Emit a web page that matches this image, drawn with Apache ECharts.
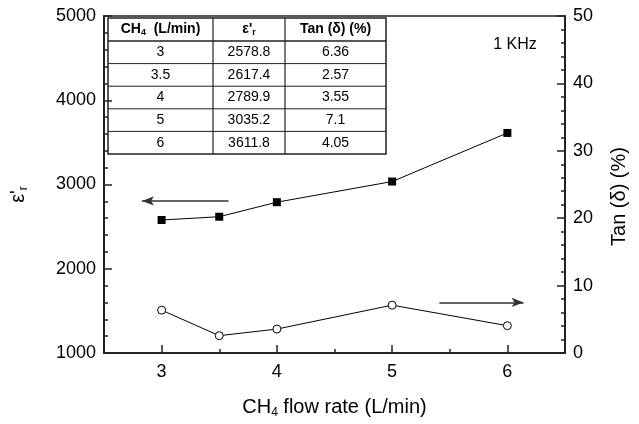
<!DOCTYPE html>
<html>
<head>
<meta charset="utf-8">
<script src="https://cdn.jsdelivr.net/npm/echarts@6/dist/echarts.min.js"></script>
<style>
  html, body { margin: 0; padding: 0; background: #fff; }
  #chart { width: 639px; height: 424px; }
</style>
</head>
<body>
<div id="chart"></div>
<script>
// CH4 flow rate (L/min) and the measured dielectric values at 1 KHz
const flowRate = [3, 3.5, 4, 5, 6];
const permittivity = [2578.8, 2617.4, 2789.9, 3035.2, 3611.8];
const lossTangent = [6.36, 2.57, 3.55, 7.1, 4.05];

const xMajorTicks = [3, 4, 5, 6];
const xMinorTicks = [3.5, 4.5, 5.5];

const FONT = '"Liberation Sans", Arial, sans-serif';

const chart = echarts.init(document.getElementById('chart'), null, { renderer: 'canvas' });

// Summary table in the upper-left corner, built from the same arrays
function buildTable() {
  const colX = [108, 213, 285, 386];
  const rowY = [18, 41];
  const rowH = (154 - 41) / flowRate.length;
  for (let i = 1; i <= flowRate.length; i++) rowY.push(41 + rowH * i);
  const children = [];
  children.push({
    type: 'rect',
    shape: { x: colX[0], y: rowY[0], width: colX[3] - colX[0], height: rowY[rowY.length - 1] - rowY[0] },
    style: { fill: '#fff', stroke: '#222', lineWidth: 1.5 }
  });
  for (let c = 1; c < colX.length - 1; c++) {
    children.push({ type: 'line', shape: { x1: colX[c], y1: rowY[0], x2: colX[c], y2: rowY[rowY.length - 1] }, style: { stroke: '#222', lineWidth: 1.2 } });
  }
  for (let r = 1; r < rowY.length - 1; r++) {
    children.push({ type: 'line', shape: { x1: colX[0], y1: rowY[r], x2: colX[3], y2: rowY[r] }, style: { stroke: '#222', lineWidth: r === 1 ? 1.5 : 1 } });
  }
  const header = ['CH{sub|4}  (L/min)', "ε'{sub|r}", 'Tan (δ) (%)'];
  header.forEach((h, c) => {
    children.push({
      type: 'text',
      style: {
        text: h, x: (colX[c] + colX[c + 1]) / 2, y: (rowY[0] + rowY[1]) / 2,
        align: 'center', verticalAlign: 'middle',
        font: 'bold 14px ' + FONT, fill: '#000',
        rich: { sub: { font: 'bold 9px ' + FONT, verticalAlign: 'bottom', padding: [6, 0, 0, 0] } }
      }
    });
  });
  flowRate.forEach((f, i) => {
    const vals = [String(f), String(permittivity[i]), String(lossTangent[i])];
    vals.forEach((v, c) => {
      children.push({
        type: 'text',
        style: {
          text: v, x: (colX[c] + colX[c + 1]) / 2, y: (rowY[i + 1] + rowY[i + 2]) / 2,
          align: 'center', verticalAlign: 'middle', font: '14px ' + FONT, fill: '#000'
        }
      });
    });
  });
  return { type: 'group', children, z: 50 };
}

const axisTextStyle = { color: '#000', fontSize: 18, fontFamily: FONT };

chart.setOption({
  animation: false,
  backgroundColor: '#fff',
  grid: { left: 100, right: 74, top: 16, bottom: 69, show: true, borderColor: '#222', borderWidth: 1.5 },
  xAxis: [
    {
      type: 'value', min: 2.5, max: 6.5,
      name: 'CH{sub|4} flow rate (L/min)', nameLocation: 'middle', nameGap: 42,
      nameTextStyle: {
        color: '#000', fontSize: 20, fontFamily: FONT,
        rich: { sub: { fontSize: 12, fontFamily: FONT, color: '#000', verticalAlign: 'bottom', padding: [12, 0, 0, 0] } }
      },
      axisLine: { show: true, onZero: false, lineStyle: { color: '#222', width: 2 } },
      axisTick: { show: true, inside: true, length: 8, customValues: xMajorTicks, lineStyle: { color: '#222', width: 1.5 } },
      axisLabel: { customValues: xMajorTicks, margin: 10, ...axisTextStyle },
      splitLine: { show: false }
    },
    {
      // minor ticks between the whole-number flow rates
      type: 'value', min: 2.5, max: 6.5, position: 'bottom',
      axisLine: { show: false },
      axisTick: { show: true, inside: true, length: 4, customValues: xMinorTicks, lineStyle: { color: '#222', width: 1.5 } },
      axisLabel: { show: false, customValues: xMinorTicks },
      splitLine: { show: false }
    }
  ],
  yAxis: [
    {
      type: 'value', min: 1000, max: 5000, interval: 1000, position: 'left',
      name: "ε'{sub|r}", nameLocation: 'middle', nameGap: 74, nameRotate: 90,
      nameTextStyle: {
        color: '#000', fontSize: 20, fontFamily: FONT, padding: [0, 20, 0, 0],
        rich: { sub: { fontSize: 12, fontFamily: FONT, color: '#000', verticalAlign: 'bottom', padding: [12, 0, 0, 0] } }
      },
      axisLine: { show: true, onZero: false, lineStyle: { color: '#222', width: 2 } },
      axisTick: { show: true, inside: true, length: 8, lineStyle: { color: '#222', width: 1.5 } },
      minorTick: { show: true, splitNumber: 5, length: 4, lineStyle: { color: '#222', width: 1.5 } },
      axisLabel: { margin: 8, formatter: v => String(v), ...axisTextStyle },
      splitLine: { show: false }, minorSplitLine: { show: false }
    },
    {
      type: 'value', min: 0, max: 50, interval: 10, position: 'right',
      name: 'Tan (δ) (%)', nameLocation: 'middle', nameGap: 44, nameRotate: 90,
      nameTextStyle: { color: '#000', fontSize: 20, fontFamily: FONT, padding: [0, 24, 0, 0] },
      axisLine: { show: true, onZero: false, lineStyle: { color: '#222', width: 2 } },
      axisTick: { show: true, inside: true, length: 8, lineStyle: { color: '#222', width: 1.5 } },
      minorTick: { show: true, splitNumber: 5, length: 4, lineStyle: { color: '#222', width: 1.5 } },
      axisLabel: { margin: 8, ...axisTextStyle },
      splitLine: { show: false }, minorSplitLine: { show: false }
    }
  ],
  series: [
    {
      name: "ε'r", type: 'line', xAxisIndex: 0, yAxisIndex: 0,
      data: flowRate.map((f, i) => [f, permittivity[i]]),
      symbol: 'rect', symbolSize: 8,
      itemStyle: { color: '#000' },
      lineStyle: { color: '#000', width: 1 },
      markLine: {
        silent: true, animation: false,
        symbol: ['none', 'arrow'], symbolSize: [7, 12],
        label: { show: false },
        lineStyle: { color: '#333', width: 1.5, type: 'solid' },
        data: [[{ coord: [3.58, 2805] }, { coord: [2.83, 2805] }]]
      }
    },
    {
      name: 'Tan (δ)', type: 'line', xAxisIndex: 0, yAxisIndex: 1,
      data: flowRate.map((f, i) => [f, lossTangent[i]]),
      symbol: 'circle', symbolSize: 8,
      itemStyle: { color: '#fff', borderColor: '#000', borderWidth: 1 },
      lineStyle: { color: '#000', width: 1 },
      markLine: {
        silent: true, animation: false,
        symbol: ['none', 'arrow'], symbolSize: [7, 12],
        label: { show: false },
        lineStyle: { color: '#333', width: 1.5, type: 'solid' },
        data: [[{ coord: [5.41, 7.5] }, { coord: [6.14, 7.5] }]]
      }
    }
  ],
  graphic: [
    buildTable(),
    {
      type: 'text', z: 50,
      style: { text: '1 KHz', x: 515, y: 45, align: 'center', verticalAlign: 'middle', font: '16px ' + FONT, fill: '#000' }
    }
  ]
});
</script>
</body>
</html>
